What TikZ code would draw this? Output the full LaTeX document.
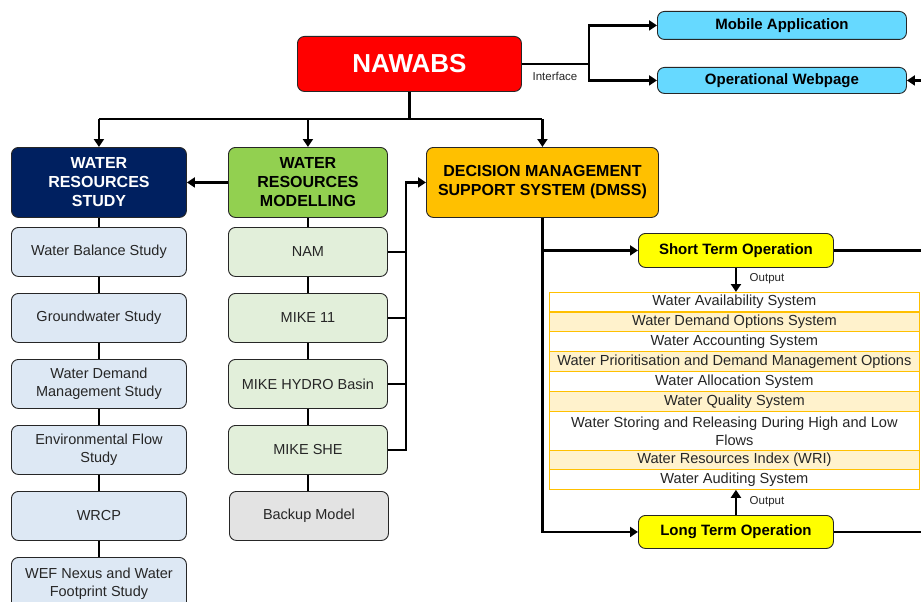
\documentclass[tikz,border=0pt]{standalone}
\usepackage{fontspec}
\setmainfont{Liberation Sans}
\usetikzlibrary{arrows.meta}
\definecolor{nawred}{HTML}{FF0000}
\definecolor{navy}{HTML}{002060}
\definecolor{wgreen}{HTML}{92D050}
\definecolor{dorange}{HTML}{FFC000}
\definecolor{cyanbox}{HTML}{66D9FF}
\definecolor{ybox}{HTML}{FFFF00}
\definecolor{lblue}{HTML}{DDE8F4}
\definecolor{lgreen}{HTML}{E2EFDA}
\definecolor{lgray}{HTML}{E3E3E3}
\definecolor{lorange}{HTML}{FFF2CC}
\begin{document}
\begin{tikzpicture}[x=1pt,y=-1pt,
  box/.style={draw=black!85, line width=0.9pt, rounded corners=7pt, anchor=north west, inner sep=1pt, align=center},
  hdr/.style={box, minimum height=70pt, font=\bfseries\fontsize{16}{19}\selectfont},
  item/.style={box, minimum height=49pt, text=black!85, font=\fontsize{14.5}{18}\selectfont},
  lbox/.style={item, minimum width=175pt, fill=lblue},
  mbox/.style={item, minimum width=159pt, fill=lgreen},
  opbox/.style={box, minimum width=195pt, fill=ybox, font=\bfseries\fontsize{15}{17}\selectfont},
  appbox/.style={box, minimum width=249pt, fill=cyanbox, font=\bfseries\fontsize{15}{17}\selectfont},
  row/.style={draw=dorange, line width=0.8pt, anchor=north west, minimum width=370pt, inner sep=0pt, align=center, text=black!85, font=\fontsize{14.6}{18}\selectfont},
  conn/.style={line width=2.8pt},
  arr/.style={conn, -{Triangle[length=8pt,width=10pt]}},
  small/.style={font=\fontsize{11.5}{13}\selectfont, text=black!85}]
\useasboundingbox (0,0) rectangle (921,602);
\clip (0,0) rectangle (921,602);

% top
\node[box, fill=nawred, minimum width=224pt, minimum height=55pt, text=white, font=\bfseries\fontsize{26}{30}\selectfont] (nawabs) at (297,36) {NAWABS};
\node[appbox, minimum height=28pt] (mobile) at (657,11) {Mobile Application};
\node[appbox, minimum height=26pt] (web) at (657,67) {Operational Webpage};
\node[small] (iface) at (555,76) {Interface};

% headers
\node[hdr, fill=navy, text=white, minimum width=175pt] (wrs) at (11,147) {WATER\\RESOURCES\\STUDY};
\node[hdr, fill=wgreen, text=black, minimum width=159pt] (wrm) at (228,147) {WATER\\RESOURCES\\MODELLING};
\node[hdr, fill=dorange, text=black, minimum width=232pt] (dmss) at (426,147) {DECISION MANAGEMENT\\SUPPORT SYSTEM (DMSS)};

% left column
\node[lbox] (l1) at (11,227) {Water Balance Study};
\node[lbox] (l2) at (11,293) {Groundwater Study};
\node[lbox] (l3) at (11,359) {Water Demand\\Management Study};
\node[lbox] (l4) at (11,425) {Environmental Flow\\Study};
\node[lbox] (l5) at (11,491) {WRCP};
\node[lbox, minimum height=53pt] (l6) at (11,557) {WEF Nexus and Water\\Footprint Study};

% middle column
\node[mbox] (m1) at (228,227) {NAM};
\node[mbox] (m2) at (228,293) {MIKE 11};
\node[mbox] (m3) at (228,359) {MIKE HYDRO Basin};
\node[mbox] (m4) at (228,425) {MIKE SHE};
\node[mbox, fill=lgray] (m5) at (229,491) {Backup Model};

% operations
\node[opbox, minimum height=34pt] (sto) at (638,233) {Short Term Operation};
\node[opbox, minimum height=33pt] (lto) at (638,515) {Long Term Operation};

% table
\node[row, fill=white, minimum height=19pt] (r1) at (549,292) {Water Availability System};
\node[row, fill=lorange, minimum height=20pt] (r2) at (549,311) {Water Demand Options System};
\node[row, fill=white, minimum height=20pt] (r3) at (549,331) {Water Accounting System};
\node[row, fill=lorange, minimum height=20pt] (r4) at (549,351) {Water Prioritisation and Demand Management Options};
\node[row, fill=white, minimum height=20pt] (r5) at (549,371) {Water Allocation System};
\node[row, fill=lorange, minimum height=20pt] (r6) at (549,391) {Water Quality System};
\node[row, fill=white, minimum height=39pt] (r7) at (549,411) {Water Storing and Releasing During High and Low\\Flows};
\node[row, fill=lorange, minimum height=19pt] (r8) at (549,450) {Water Resources Index (WRI)};
\node[row, fill=white, minimum height=20pt] (r9) at (549,469) {Water Auditing System};
\draw[dorange, line width=1.6pt] (r1.south west) -- (r1.south east);

\node[small] (out1) at (767,279) {Output};
\node[small] (out2) at (767,502) {Output};

% helper coordinates
\coordinate (ifj) at (589,0);
\coordinate (bus) at (0,119);
\coordinate (mbus) at (406,0);
\coordinate (edge) at (935,0);

% connectors
\draw[conn] (nawabs.east) -- (nawabs.east -| ifj);
\draw[arr] (nawabs.east -| ifj) |- (mobile.west);
\draw[arr] (nawabs.east -| ifj) |- (web.west);
\draw[arr] (web.east -| edge) -- (web.east);

\draw[conn] (nawabs.south) -- (nawabs.south |- bus);
\draw[conn] (wrs.north |- bus) -- (dmss.north |- bus);
\draw[arr] (wrs.north |- bus) -- (wrs.north);
\draw[arr] (wrm.north |- bus) -- (wrm.north);
\draw[arr] (dmss.north |- bus) -- (dmss.north);

\draw[arr] (wrm.west) -- (wrs.east);

\draw[conn] (wrs.south) -- (l1.north);
\draw[conn] (l1.south) -- (l2.north);
\draw[conn] (l2.south) -- (l3.north);
\draw[conn] (l3.south) -- (l4.north);
\draw[conn] (l4.south) -- (l5.north);
\draw[conn] (l5.south) -- (l6.north);

\draw[conn] (wrm.south) -- (m1.north);
\draw[conn] (m1.south) -- (m2.north);
\draw[conn] (m2.south) -- (m3.north);
\draw[conn] (m3.south) -- (m4.north);
\draw[conn] (m4.south) -- (m4.south |- m5.north);

\draw[conn] (m1.east) -- (m1.east -| mbus);
\draw[conn] (m2.east) -- (m2.east -| mbus);
\draw[conn] (m3.east) -- (m3.east -| mbus);
\draw[arr] (m4.east) -- (m4.east -| mbus) |- (dmss.west);

\draw[arr] (dmss.south) |- (lto.west);
\draw[arr] (dmss.south |- sto.west) -- (sto.west);
\draw[conn] (sto.east) -- (sto.east -| edge);
\draw[conn] (lto.east) -- (lto.east -| edge);

\draw[arr] (sto.south) -- (sto.south |- r1.north);
\draw[arr] (lto.north) -- (lto.north |- r9.south);
\end{tikzpicture}
\end{document}
